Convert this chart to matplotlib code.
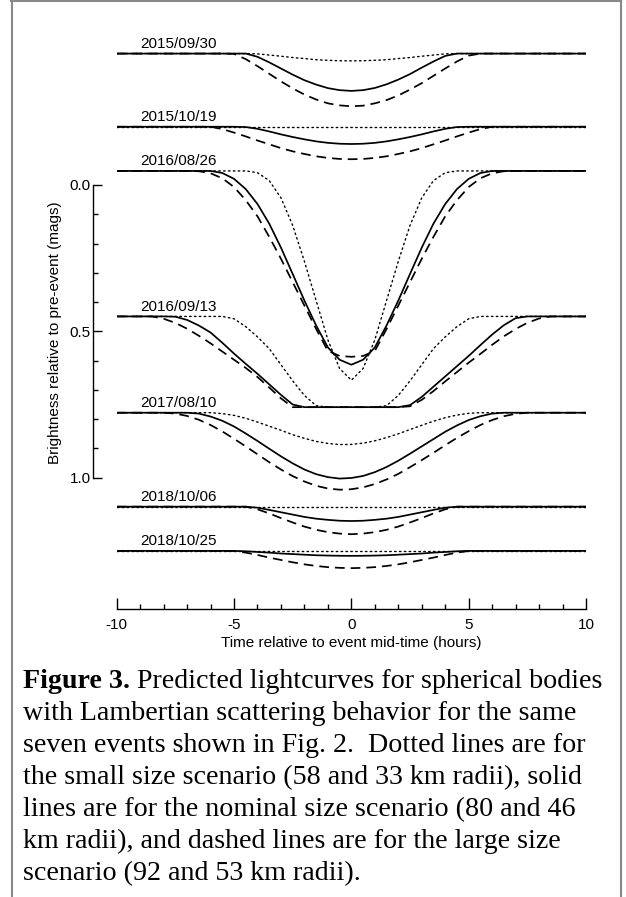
import matplotlib
matplotlib.use("Agg")
import matplotlib.pyplot as plt
from matplotlib.lines import Line2D

plt.rcParams['lines.scale_dashes'] = False
plt.rcParams['axes.unicode_minus'] = False
plt.rcParams['font.family'] = ['Liberation Sans', 'DejaVu Sans']

# time grid (hours from mid-event)
hours = [-10, -9.5, -9, -8.5, -8, -7.5, -7, -6.5, -6, -5.5,
         -5, -4.5, -4, -3.5, -3, -2.5, -2, -1.5, -1, -0.5,
         0, 0.5, 1, 1.5, 2, 2.5, 3, 3.5, 4, 4.5,
         5, 5.5, 6, 6.5, 7, 7.5, 8, 8.5, 9, 9.5, 10]

dates = ['2015/09/30', '2015/10/19', '2016/08/26', '2016/09/13',
         '2017/08/10', '2018/10/06', '2018/10/25']
# pre-event level of each curve on the stacked plot (mags)
baselines = [-0.449, -0.199, -0.048, 0.449, 0.778, 1.099, 1.250]

# fading (mags) for small / nominal / large size scenario
dot_0930 = [0, 0, 0, 0, 0, 0, 0, 0, 0, 0,
            0, 0, .001, .005, .009, .0135, .017, .021, .023, .0245,
            .025, .0245, .023, .021, .017, .0135, .009, .005, .001, 0,
            0, 0, 0, 0, 0, 0, 0, 0, 0, 0, 0]
sol_0930 = [0, 0, 0, 0, 0, 0, 0, 0, 0, 0,
            0, 0, .011, .030, .051, .072, .091, .106, .118, .125,
            .1275, .125, .1175, .105, .089, .070, .048, .027, .008, 0,
            0, 0, 0, 0, 0, 0, 0, 0, 0, 0, 0]
dash_0930 = [0, 0, 0, 0, 0, 0, 0, 0, 0, 0,
             .001, .019, .043, .069, .095, .119, .140, .157, .170, .177,
             .180, .178, .170, .159, .143, .123, .101, .076, .051, .027,
             .007, 0, 0, 0, 0, 0, 0, 0, 0, 0, 0]

dot_1019 = [0, 0, 0, 0, 0, 0, 0, 0, 0, 0,
            0, 0, 0, 0, 0, 0, 0, 0, 0, 0,
            0, 0, 0, 0, 0, 0, 0, 0, 0, 0,
            0, 0, 0, 0, 0, 0, 0, 0, 0, 0, 0]
sol_1019 = [0, 0, 0, 0, 0, 0, 0, 0, 0, 0,
            0, .001, .007, .016, .026, .035, .043, .050, .055, .058,
            .059, .058, .055, .050, .043, .035, .026, .016, .007, .001,
            0, 0, 0, 0, 0, 0, 0, 0, 0, 0, 0]
dash_1019 = [0, 0, 0, 0, 0, 0, 0, 0, 0, .008,
             .020, .033, .047, .060, .073, .084, .093, .101, .1065, .110,
             .111, .110, .1065, .101, .093, .084, .073, .060, .047, .033,
             .020, .008, 0, 0, 0, 0, 0, 0, 0, 0, 0]

dot_0826 = [0, 0, 0, 0, 0, 0, 0, 0, 0, 0,
            0, 0, .006, .033, .092, .186, .309, .443, .577, .675,
            .715, .675, .577, .443, .309, .186, .092, .033, .006, 0,
            0, 0, 0, 0, 0, 0, 0, 0, 0, 0, 0]
sol_0826 = [0, 0, 0, 0, 0, 0, 0, 0, 0, .007,
            .027, .062, .113, .180, .262, .352, .443, .528, .603, .645,
            .662, .645, .603, .528, .443, .352, .262, .180, .113, .062,
            .027, .007, 0, 0, 0, 0, 0, 0, 0, 0, 0]
dash_0826 = [0, 0, 0, 0, 0, 0, 0, .001, .008, .025,
             .055, .100, .155, .225, .300, .380, .460, .540, .615, .632,
             .635, .632, .615, .540, .460, .380, .300, .225, .155, .100,
             .055, .025, .008, .001, 0, 0, 0, 0, 0, 0, 0]

dot_0913 = [0, 0, 0, 0, 0, 0, 0, 0, 0, 0,
            .008, .035, .070, .110, .165, .220, .270, .305, .310, .310,
            .310, .310, .310, .305, .270, .220, .165, .110, .070, .035,
            .008, 0, 0, 0, 0, 0, 0, 0, 0, 0, 0]
sol_0913 = [0, 0, 0, 0, 0, .001, .012, .031, .055, .090,
            .127, .162, .196, .232, .268, .301, .310, .310, .310, .310,
            .310, .310, .310, .310, .310, .303, .275, .240, .205, .170,
            .135, .098, .062, .030, .006, 0, 0, 0, 0, 0, 0]
dash_0913 = [0, 0, 0, 0, .008, .022, .042, .066, .092, .120,
             .148, .176, .207, .243, .280, .310, .310, .310, .310, .310,
             .310, .310, .310, .310, .310, .307, .285, .255, .222, .190,
             .158, .128, .097, .068, .043, .022, .007, 0, 0, 0, 0]

dot_0810 = [0, 0, 0, 0, 0, 0, 0, 0, 0, .003,
            .009, .019, .032, .046, .060, .075, .0875, .098, .105, .1087,
            .1083, .104, .096, .085, .072, .0575, .043, .029, .017, .008,
            .002, 0, 0, 0, 0, 0, 0, 0, 0, 0, 0]
sol_0810 = [0, 0, 0, 0, 0, 0, 0, .003, .013, .0275,
            .047, .071, .0965, .123, .149, .173, .194, .210, .220, .225,
            .223, .216, .203, .1855, .164, .140, .115, .090, .065, .0435,
            .025, .012, .003, 0, 0, 0, 0, 0, 0, 0, 0]
dash_0810 = [0, 0, 0, 0, 0, .003, .011, .024, .042, .064,
             .089, .115, .142, .169, .194, .2165, .235, .2496, .259, .263,
             .2614, .255, .2436, .228, .209, .186, .162, .137, .111, .086,
             .063, .042, .025, .012, .0036, 0, 0, 0, 0, 0, 0]

dot_1006 = [0, 0, 0, 0, 0, 0, 0, 0, 0, 0,
            0, 0, 0, 0, 0, 0, 0, 0, 0, 0,
            0, 0, 0, 0, 0, 0, 0, 0, 0, 0,
            0, 0, 0, 0, 0, 0, 0, 0, 0, 0, 0]
sol_1006 = [0, 0, 0, 0, 0, 0, 0, 0, 0, 0,
            0, 0, .0035, .011, .019, .027, .035, .041, .045, .048,
            .049, .048, .045, .041, .035, .027, .019, .011, .0035, 0,
            0, 0, 0, 0, 0, 0, 0, 0, 0, 0, 0]
dash_1006 = [0, 0, 0, 0, 0, 0, 0, 0, 0, 0,
             0, 0, .009, .023, .039, .054, .068, .079, .087, .092,
             .094, .092, .087, .079, .068, .054, .039, .023, .009, 0,
             0, 0, 0, 0, 0, 0, 0, 0, 0, 0, 0]

dot_1025 = [0, 0, 0, 0, 0, 0, 0, 0, 0, 0,
            0, 0, 0, 0, 0, 0, 0, 0, 0, 0,
            0, 0, 0, 0, 0, 0, 0, 0, 0, 0,
            0, 0, 0, 0, 0, 0, 0, 0, 0, 0, 0]
sol_1025 = [0, 0, 0, 0, 0, 0, 0, 0, 0, 0,
            0, .0014, .0037, .006, .009, .011, .013, .015, .016, .0167,
            .017, .0167, .016, .015, .013, .011, .009, .006, .0037, .0014,
            0, 0, 0, 0, 0, 0, 0, 0, 0, 0, 0]
dash_1025 = [0, 0, 0, 0, 0, 0, 0, 0, 0, 0,
             .0005, .006, .014, .023, .031, .039, .046, .0515, .0556, .058,
             .059, .058, .0556, .0515, .046, .039, .031, .023, .014, .006,
             .0005, 0, 0, 0, 0, 0, 0, 0, 0, 0, 0]

dotted = [dot_0930, dot_1019, dot_0826, dot_0913, dot_0810, dot_1006, dot_1025]
solid = [sol_0930, sol_1019, sol_0826, sol_0913, sol_0810, sol_1006, sol_1025]
dashed = [dash_0930, dash_1019, dash_0826, dash_0913, dash_0810, dash_1006, dash_1025]

xticks = [-10, -5, 0, 5, 10]
xtick_labels = ['-10', '-5', '0', '5', '10']
xminor = [-9, -8, -7, -6, -4, -3, -2, -1, 1, 2, 3, 4, 6, 7, 8, 9]
yticks = [0.0, 0.5, 1.0]
ytick_labels = ['0.0', '0.5', '1.0']
yminor = [0.1, 0.2, 0.3, 0.4, 0.6, 0.7, 0.8, 0.9]

caption_bold = 'Figure 3.'
caption_lines = [' Predicted lightcurves for spherical bodies',
                 'with Lambertian scattering behavior for the same',
                 'seven events shown in Fig. 2.  Dotted lines are for',
                 'the small size scenario (58 and 33 km radii), solid',
                 'lines are for the nominal size scenario (80 and 46',
                 'km radii), and dashed lines are for the large size',
                 'scenario (92 and 53 km radii).']

W, H = 626, 897
fig = plt.figure(figsize=(W / 100, H / 100), dpi=100)


def fx(px):
    return px / W


def fy(py):
    return 1 - py / H


# axes: x from 116.7 to 586 px, spine at y=609.3 px; 0 mag at y=185, 1 mag at y=477.7
ax = fig.add_axes([fx(116.7), fy(609.3), fx(586) - fx(116.7), fy(20) - fy(609.3)])
ax.set_xlim(-10, 10)
ax.set_ylim(1.4496, -0.5637)
ax.patch.set_visible(False)

for i in range(len(dates)):
    base = baselines[i]
    ax.plot(hours, [base + d for d in dotted[i]], color='black', lw=1.0,
            dashes=(1.1, 2.4), dash_capstyle='round')
    ax.plot(hours, [base + d for d in dashed[i]], color='black', lw=1.25,
            dashes=(7, 4.3))
    ax.plot(hours, [base + d for d in solid[i]], color='black', lw=1.25)
    ax.text(-9.0, base - 0.019, dates[i], fontsize=11, ha='left', va='baseline')

ax.spines[['top', 'right']].set_visible(False)
ax.spines['left'].set_position(('outward', 16.85))
ax.spines['left'].set_bounds(0, 1)
for s in ('left', 'bottom'):
    ax.spines[s].set_linewidth(1.0)

ax.set_xticks(xticks)
ax.set_xticklabels(xtick_labels)
ax.set_xticks(xminor, minor=True)
ax.set_yticks(yticks)
ax.set_yticklabels(ytick_labels)
ax.set_yticks(yminor, minor=True)
ax.tick_params(axis='x', which='major', direction='in', length=7.7, width=1.0,
               labelsize=11, pad=6.5)
ax.tick_params(axis='x', which='minor', direction='in', length=3.6, width=1.0)
ax.tick_params(axis='y', which='major', direction='in', length=6.5, width=1.0,
               labelsize=11, pad=1.9)
ax.tick_params(axis='y', which='minor', direction='in', length=3.6, width=1.0)

fig.text(fx(351.3), fy(646.5), 'Time relative to event mid-time (hours)',
         fontsize=11, ha='center', va='baseline')
fig.text(fx(55.5), fy(333), 'Brightness relative to pre-event (mags)',
         fontsize=11, ha='center', va='center', rotation=90)

# caption
serif = ['Liberation Serif', 'DejaVu Serif']
cap_x, cap_y0, cap_step, cap_size = 23.2, 688.3, 31.95, 20.2
tb = fig.text(fx(cap_x), fy(cap_y0), caption_bold, family=serif, fontsize=cap_size,
              fontweight='bold', va='baseline', ha='left')
fig.canvas.draw()
bb = tb.get_window_extent(renderer=fig.canvas.get_renderer())
fig.text(bb.x1 / W, fy(cap_y0), caption_lines[0], family=serif, fontsize=cap_size,
         va='baseline', ha='left')
for k, line in enumerate(caption_lines[1:], start=1):
    fig.text(fx(cap_x), fy(cap_y0 + k * cap_step), line, family=serif,
             fontsize=cap_size, va='baseline', ha='left')

# frame around the figure
frame = dict(transform=fig.transFigure, color='#888888', lw=1.5)
fig.add_artist(Line2D([fx(11), fx(621)], [fy(1.5), fy(1.5)], **frame))
fig.add_artist(Line2D([fx(11.5), fx(11.5)], [fy(1.5), fy(897)], **frame))
fig.add_artist(Line2D([fx(620.5), fx(620.5)], [fy(1.5), fy(897)], **frame))

fig.savefig('out.png', dpi=100)
